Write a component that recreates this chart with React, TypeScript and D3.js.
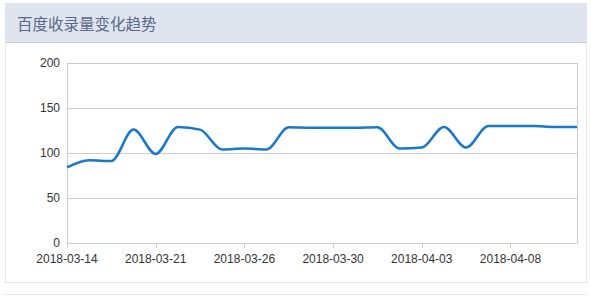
import React from "react";
import * as d3 from "d3";

const categories = [
  "2018-03-14", "2018-03-15", "2018-03-17", "2018-03-19", "2018-03-21", "2018-03-22",
  "2018-03-23", "2018-03-25", "2018-03-26", "2018-03-27", "2018-03-28", "2018-03-29",
  "2018-03-30", "2018-03-31", "2018-04-01", "2018-04-02", "2018-04-03", "2018-04-04",
  "2018-04-05", "2018-04-07", "2018-04-08", "2018-04-09", "2018-04-10", "2018-04-11",
];
const values = [
  84, 92, 91, 126, 99, 129, 126, 104, 105, 104, 128.5, 128,
  128, 128, 128.5, 105, 106, 129, 106, 130, 130, 130, 129, 129,
];
const yTicks = [0, 50, 100, 150, 200];
const labelEvery = 4;
const title = "百度收录量变化趋势";

const W = 591;
const H = 296;
const plot = { left: 67, right: 577, top: 63, bottom: 243 };
const font = "'Liberation Sans', Arial, sans-serif";

export default function App() {
  const x = d3
    .scalePoint<string>()
    .domain(categories)
    .range([plot.left, plot.right]);
  const y = d3.scaleLinear().domain([0, 200]).range([plot.bottom, plot.top]);
  const line = d3
    .line<number>()
    .x((_, i) => x(categories[i]) as number)
    .y((d) => y(d))
    .curve(d3.curveMonotoneX);
  const labelled = categories.filter((_, i) => i % labelEvery === 0);

  return (
    <div style={{ position: "fixed", left: 0, top: 0, width: W, height: H, background: "#fff" }}>
      <svg width={W} height={H} style={{ display: "block" }}>
        {/* panel */}
        <rect x={5.5} y={3.5} width={581} height={279} fill="#fff" stroke="#e6e6e6" />
        <rect x={5.5} y={3.5} width={581} height={39} fill="#dfe4ee" stroke="none" />
        <line x1={5.5} x2={586.5} y1={42.5} y2={42.5} stroke="#c9d1df" />
        <text x={17} y={30} fontSize={15.5} fill="#5a6889" fontFamily="'Noto Sans CJK SC', sans-serif">
          {title}
        </text>
        <line x1={5} x2={586} y1={294.5} y2={294.5} stroke="#e6e6e6" />

        {/* grid */}
        {yTicks.map((t) => (
          <line key={t} x1={plot.left} x2={plot.right} y1={Math.round(y(t)) + 0.5} y2={Math.round(y(t)) + 0.5} stroke="#cccccc" />
        ))}
        <line x1={plot.right + 0.5} x2={plot.right + 0.5} y1={plot.top} y2={plot.bottom} stroke="#cccccc" />
        <line x1={plot.left + 0.5} x2={plot.left + 0.5} y1={plot.top} y2={plot.bottom + 5} stroke="#cccccc" />
        {labelled.map((c) => (
          <line key={c} x1={Math.round(x(c) as number) + 0.5} x2={Math.round(x(c) as number) + 0.5} y1={plot.bottom} y2={plot.bottom + 5} stroke="#cccccc" />
        ))}

        {/* y labels */}
        {yTicks.map((t) => (
          <text key={t} x={60} y={y(t)} dy="0.35em" textAnchor="end" fontSize={12} fill="#333" fontFamily={font}>
            {t}
          </text>
        ))}
        {/* x labels */}
        {labelled.map((c) => (
          <text key={c} x={x(c) as number} y={263} textAnchor="middle" fontSize={12} fill="#333" fontFamily={font}>
            {c}
          </text>
        ))}

        <path d={line(values) || ""} fill="none" stroke="#1a78c8" strokeWidth={2.5} />
      </svg>
    </div>
  );
}
